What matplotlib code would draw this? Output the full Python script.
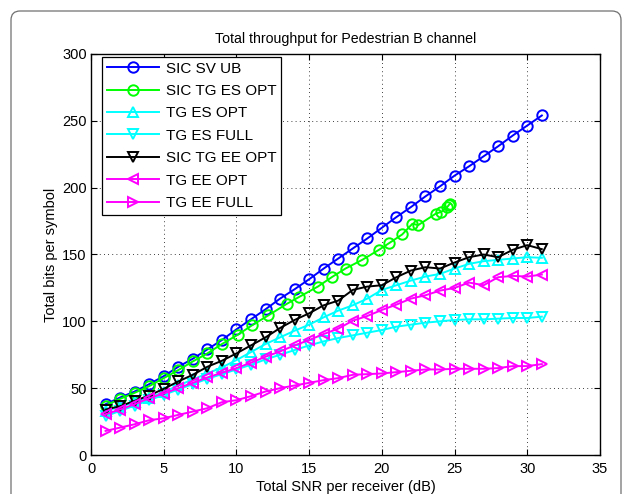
import matplotlib
matplotlib.use('Agg')
import matplotlib.pyplot as plt
from matplotlib.patches import FancyBboxPatch
from matplotlib.transforms import IdentityTransform
import numpy as np

plt.rcParams['font.family'] = ['Liberation Sans', 'DejaVu Sans']

snr = np.arange(1, 32)

# SIC SV UB
sic_sv_ub = [38, 43, 47.5, 53, 59, 66, 72, 79, 86, 94, 101.5, 109, 117, 124, 131.5, 139.5,
             147, 154.5, 162, 170, 178, 185.5, 193.5, 201, 209, 216, 223.5, 231, 239, 246.5, 254]
# SIC TG ES OPT (irregular snr points)
snr_sic_es = [1, 2, 3, 4, 5, 6, 7, 8, 9, 10.1, 11.07, 12.2, 13.45, 14.27, 15.6, 16.55, 17.5,
              18.65, 19.8, 20.5, 21.4, 22.1, 22.5, 23.7, 24.1, 24.5, 24.6, 24.7]
sic_tg_es_opt = [37, 42, 46.5, 51.5, 57.5, 63.5, 70, 76, 83, 90, 97, 104.5, 113, 118, 126, 133,
                 139.5, 146, 153.5, 158.5, 165, 173, 172, 180.5, 182, 185.5, 187, 188]
# TG ES OPT
tg_es_opt = [33, 36, 39.5, 43, 47, 52, 56.5, 61, 65.5, 71, 77, 83, 88, 93, 97.5, 103, 108,
             112, 117, 123.5, 127, 130.5, 133.5, 135.5, 139.5, 143, 145, 146, 147, 148, 147.5]
# TG ES FULL
tg_es_full = [29, 33, 37, 41, 45, 49, 53, 57, 60.5, 64, 67.5, 71.5, 75, 78.5, 82, 85, 87.5,
              89.5, 91.5, 93.5, 96, 97.5, 99, 100, 101, 101.5, 101.5, 102, 102.5, 102.5, 103.5]
# SIC TG EE OPT
sic_tg_ee_opt = [34, 36.5, 40.5, 44.5, 49.5, 55, 60, 66, 70.5, 76, 82, 88, 95, 101, 106, 112,
                 115.5, 123.5, 126, 127, 133, 138, 140.5, 139.5, 144, 148, 150, 148, 153.5, 157, 154]
# TG EE OPT
tg_ee_opt = [30.5, 34, 38, 42.5, 46, 50, 54, 58, 61.5, 65, 69, 73.5, 77.5, 82, 86, 90.5, 94.5,
             100.5, 104, 108.5, 112.5, 117, 119.5, 123, 125, 129, 127, 133, 134, 133.5, 135]
# TG EE FULL
tg_ee_full = [18, 20.5, 23, 26, 27.5, 30, 32.5, 35, 39.5, 41, 44, 47.5, 50, 52, 54, 56, 57.5,
              60, 60.5, 61, 62, 63, 64, 64, 64.5, 64.5, 64.5, 65, 66.5, 66.5, 68]

blue = (0, 0, 1)
green = (0, 1, 0)
cyan = (0, 1, 1)
magenta = (1, 0, 1)

fig = plt.figure(figsize=(6.33, 4.94), dpi=100)
fig.patches.append(FancyBboxPatch((11, -20), 610, 503,
                                  boxstyle="round,pad=0,rounding_size=9",
                                  transform=IdentityTransform(), fill=False,
                                  edgecolor='#707070', linewidth=0.9))
ax = fig.add_axes([91/633, 39/494, 509/633, 401/494])

kw = dict(linewidth=1.4, markersize=7.5, markerfacecolor='none', markeredgewidth=1.4)
ax.plot(snr, sic_sv_ub, '-o', color=blue, label='SIC SV UB', **kw)
ax.plot(snr_sic_es, sic_tg_es_opt, '-o', color=green, label='SIC TG ES OPT', **kw)
ax.plot(snr, tg_es_opt, '-^', color=cyan, label='TG ES OPT', **kw)
ax.plot(snr, tg_es_full, '-v', color=cyan, label='TG ES FULL', **kw)
ax.plot(snr, sic_tg_ee_opt, '-v', color='black', label='SIC TG EE OPT', **kw)
ax.plot(snr, tg_ee_opt, '-<', color=magenta, label='TG EE OPT', **kw)
ax.plot(snr, tg_ee_full, '->', color=magenta, label='TG EE FULL', **kw)

ax.set_xlim(0, 35)
ax.set_ylim(0, 300)
ax.set_xticks(np.arange(0, 36, 5))
ax.set_yticks(np.arange(0, 301, 50))
ax.grid(True, linestyle=(0, (1, 4)), color='black', linewidth=0.6)
ax.tick_params(direction='in', top=True, right=True, length=4, labelsize=10.5, pad=3)
ax.tick_params(axis='x', pad=5)
for s in ax.spines.values():
    s.set_linewidth(1.0)

ax.set_title('Total throughput for Pedestrian B channel', fontsize=10.2, pad=8)
ax.set_xlabel('Total SNR per receiver (dB)', fontsize=10.5, labelpad=3)
ax.set_ylabel('Total bits per symbol', fontsize=10.5, labelpad=3)

leg = ax.legend(loc='upper left', bbox_to_anchor=(11/509, 398/401), borderaxespad=0,
                fontsize=11, fancybox=False, edgecolor='black', framealpha=1,
                handlelength=3.4, handletextpad=0.5, labelspacing=0.55, borderpad=0.3)
leg.get_frame().set_linewidth(0.9)

fig.savefig('out.png', dpi=100)
